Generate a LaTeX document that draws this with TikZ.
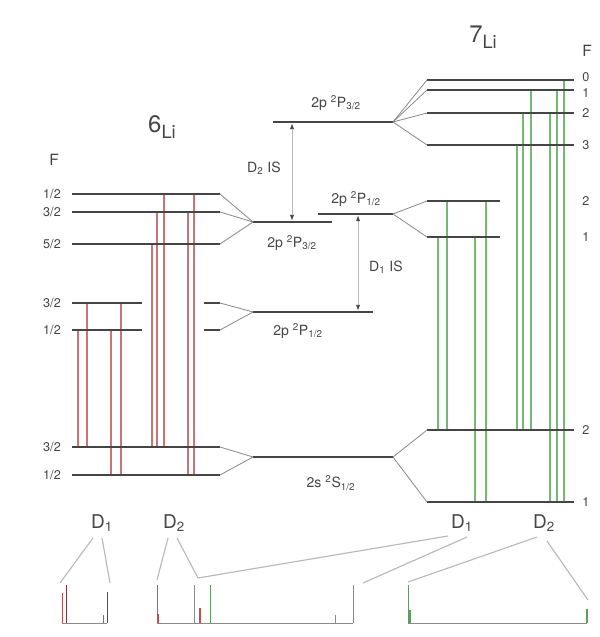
\documentclass[tikz,border=0pt]{standalone}
\usepackage{fontspec}
\setmainfont{TeX Gyre Heros}
\usepackage{xcolor}
\usetikzlibrary{arrows.meta, backgrounds}
\definecolor{lvlgray}{HTML}{454545}
\definecolor{fangray}{HTML}{8C8C8C}
\definecolor{trred}{HTML}{CC7474}
\definecolor{trgreen}{HTML}{74B874}
\definecolor{leadgray}{HTML}{B8B8B8}
\definecolor{specgray}{HTML}{8A8A8A}
\definecolor{specred}{HTML}{C05050}
\definecolor{specgreen}{HTML}{5E9E5E}

\begin{document}
\begin{tikzpicture}[x=0.025cm, y=-0.025cm,
  level/.style={draw=lvlgray, line width=1.3pt},
  fan/.style={draw=fangray, line width=0.6pt},
  tr6/.style={draw=trred, line width=0.8pt},
  tr7/.style={draw=trgreen, line width=0.8pt},
  isarrow/.style={draw=gray!55, line width=0.5pt, shorten <=1pt, shorten >=1pt,
                  arrows={Latex[length=4pt,width=3pt,color=lvlgray]-Latex[length=4pt,width=3pt,color=lvlgray]}},
  lead/.style={draw=leadgray, line width=0.8pt},
  spec/.style={draw=specgray, line width=0.7pt},
  flbl/.style={font=\fontsize{9}{10}\selectfont, text=lvlgray, inner sep=0pt},
  term/.style={font=\fontsize{10}{11}\selectfont, text=lvlgray, inner sep=0pt},
  dlbl/.style={font=\fontsize{13.5}{15}\selectfont, text=lvlgray, inner sep=0pt},
  iso/.style={font=\fontsize{17}{20}\selectfont, text=lvlgray, inner sep=0pt}
]
  \useasboundingbox (0,0) rectangle (599,637);

  % Isotope titles and F columns
  \node[iso] (li6) at (162,127) {6\raisebox{-4pt}{\fontsize{13}{15}\selectfont Li}};
  \node[iso] (li7) at (483,37) {7\raisebox{-4pt}{\fontsize{13}{15}\selectfont Li}};
  \node[font=\fontsize{11}{12}\selectfont, text=lvlgray] (F6) at (54,160) {F};
  \node[font=\fontsize{11}{12}\selectfont, text=lvlgray] (F7) at (587,51) {F};

  % 6Li hyperfine levels
  \foreach \n/\y in {a12/194, a32/212, a52/244, g32/447, g12/475}
    \draw[level] (72,\y) coordinate (\n-l) -- (220,\y) coordinate (\n-r);
  \foreach \n/\y in {b32/303, b12/330} {
    \draw[level] (72,\y) coordinate (\n-l) -- (142,\y);
    \draw[level] (204,\y) -- (220,\y) coordinate (\n-r);
  }
  \foreach \n/\y/\t in {a12/194/1\slash2, a32/212/3\slash2, a52/244/5\slash2,
                        b32/303/3\slash2, b12/330/1\slash2, g32/447/3\slash2, g12/475/1\slash2}
    \node[flbl] (f-\n) at (52,\y) {\t};

  % Fine structure levels
  \draw[level] (253,222) coordinate (P36-l) -- (332,222) coordinate (P36-r);
  \draw[level] (253,312) coordinate (P16-l) -- (373,312) coordinate (P16-r);
  \draw[level] (253,457) coordinate (S-l)   -- (393,457) coordinate (S-r);
  \draw[level] (273,122) coordinate (P37-l) -- (393,122) coordinate (P37-r);
  \draw[level] (318,214) coordinate (P17-l) -- (393,214) coordinate (P17-r);

  % 7Li hyperfine levels
  \foreach \n/\y in {c0/80, c1/90, c2/113, c3/145, e2/430, e1/502}
    \draw[level] (427,\y) coordinate (\n-l) -- (574,\y) coordinate (\n-r);
  \foreach \n/\y in {d2/201, d1/237}
    \draw[level] (427,\y) coordinate (\n-l) -- (500,\y) coordinate (\n-r);
  \foreach \n/\y/\t in {c0/77/0, c1/93/1, c2/113/2, c3/145/3, d2/201/2, d1/237/1, e2/430/2, e1/502/1}
    \node[flbl] (f-\n) at (586,\y) {\t};

  % Splitting fans
  \foreach \n in {a12,a32,a52} \draw[fan] (\n-r) -- (P36-l);
  \foreach \n in {b32,b12} \draw[fan] (\n-r) -- (P16-l);
  \foreach \n in {g32,g12} \draw[fan] (\n-r) -- (S-l);
  \foreach \n in {c0,c1,c2,c3} \draw[fan] (P37-r) -- (\n-l);
  \foreach \n in {d2,d1} \draw[fan] (P17-r) -- (\n-l);
  \foreach \n in {e2,e1} \draw[fan] (S-r) -- (\n-l);

  % Term labels
  \node[term] (t-P36) at (292,243) {2p \textsuperscript{2}P\textsubscript{3/2}};
  \node[term] (t-P16) at (298,331) {2p \textsuperscript{2}P\textsubscript{1/2}};
  \node[term] (t-S)   at (331,483) {2s \textsuperscript{2}S\textsubscript{1/2}};
  \node[term] (t-P37) at (336,103) {2p \textsuperscript{2}P\textsubscript{3/2}};
  \node[term] (t-P17) at (356,199) {2p \textsuperscript{2}P\textsubscript{1/2}};

  % Isotope shifts
  \draw[isarrow] (292,0 |- P37-l) -- (292,0 |- P36-l);
  \draw[isarrow] (358,0 |- P17-l) -- (358,0 |- P16-l);
  \node[term] (is2) at (264,168) {D\textsubscript{2} IS};
  \node[term] (is1) at (386,267) {D\textsubscript{1} IS};

  % Optical transitions
  \begin{scope}[on background layer]
    \foreach \x/\up/\lo in {78/b12/g32, 87/b32/g32, 111/b12/g12, 121/b32/g12,
                            152/a52/g32, 157/a32/g32, 164/a12/g32, 188/a32/g12, 194/a12/g12}
      \draw[tr6] (\x,0 |- \up-l) -- (\x,0 |- \lo-l);
    \foreach \x/\up/\lo in {438/d1/e2, 447/d2/e2, 475/d1/e1, 486/d2/e1,
                            517/c3/e2, 523/c2/e2, 531/c1/e2, 550/c2/e1, 557/c1/e1, 564/c0/e1}
      \draw[tr7] (\x,0 |- \up-l) -- (\x,0 |- \lo-l);
  \end{scope}

  % Spectra
  \draw[spec] (62,623) -- (107,623);
  \draw[specred, line width=0.7pt] (62,593) -- (62,623) (103,615) -- (103,623);
  \draw[specred!70!black, line width=0.7pt] (66,585) -- (66,623) (107,592) -- (107,623);
  \draw[spec] (157,623) -- (353,623);
  \draw[specred!60!gray, line width=0.7pt] (157,585) -- (157,623);
  \draw[specred, line width=1.2pt] (158,614) -- (158,623) (200,608) -- (200,623);
  \draw[spec] (194,585) -- (194,623) (335,615) -- (335,623) (353,585) -- (353,623);
  \draw[specgreen, line width=0.7pt] (210,585) -- (210,623);
  \draw[spec] (408,623) -- (587,623);
  \draw[specgreen!60!gray, line width=0.7pt] (408,585) -- (408,623);
  \draw[specgreen, line width=1.1pt] (410,610) -- (410,623) (587,609) -- (587,623);
  \coordinate (sA-l) at (60,583);
  \coordinate (sA-r) at (110,583);
  \coordinate (sB-l) at (157,580);
  \coordinate (sB-m) at (198,578);
  \coordinate (sB-r) at (363,583);
  \coordinate (sC-l) at (408,582);
  \coordinate (sC-r) at (588,600);

  % Line labels and leaders
  \node[dlbl] (D1a) at (102,523) {D\textsubscript{1}};
  \node[dlbl] (D2a) at (174,523) {D\textsubscript{2}};
  \node[dlbl] (D1b) at (462,523) {D\textsubscript{1}};
  \node[dlbl] (D2b) at (544,523) {D\textsubscript{2}};
  \draw[lead] ([shift={(-9,15)}]D1a.center) -- (sA-l);
  \draw[lead] ([shift={(0,15)}]D1a.center) -- (sA-r);
  \draw[lead] ([shift={(-6,15)}]D2a.center) -- (sB-l);
  \draw[lead] ([shift={(3,15)}]D2a.center) -- (sB-m);
  \draw[lead] ([shift={(-14,13)}]D1b.center) -- (sB-m);
  \draw[lead] ([shift={(5,14)}]D1b.center) -- (sB-r);
  \draw[lead] ([shift={(-7,14)}]D2b.center) -- (sC-l);
  \draw[lead] ([shift={(3,18)}]D2b.center) -- (sC-r);
\end{tikzpicture}
\end{document}
